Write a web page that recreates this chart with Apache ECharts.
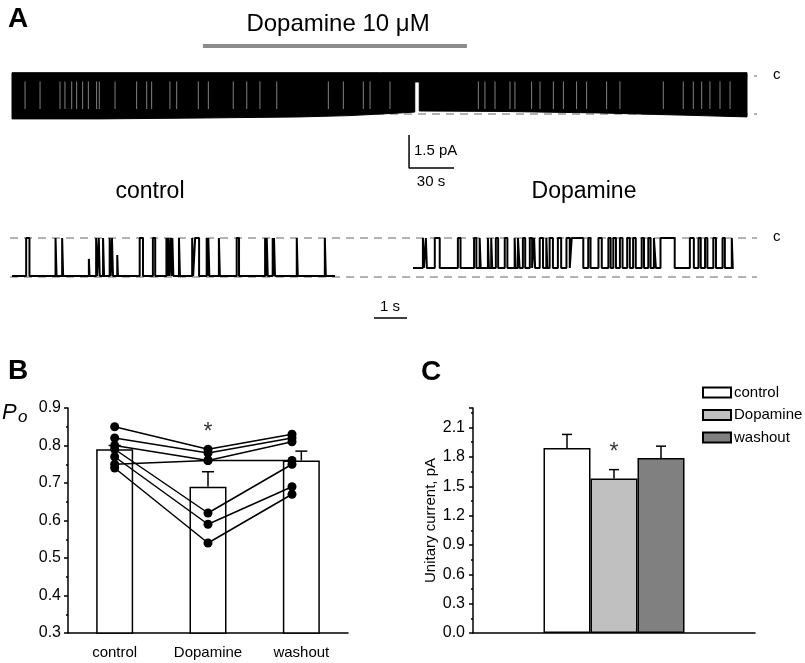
<!DOCTYPE html>
<html>
<head>
<meta charset="utf-8">
<script src="https://cdn.jsdelivr.net/npm/echarts@6/dist/echarts.min.js"></script>
<style>
html,body{margin:0;padding:0;background:#fff;}
#chart{width:805px;height:663px;}
</style>
</head>
<body>
<div id="chart"></div>
<script>
// ---------------- DATA ----------------
// Panel A, overview trace (time in s, current in pA; closed level = 0)
const overviewTime      = [0, 58.7, 125.3, 192, 225.3, 258.7, 268.5, 270, 271.5, 325.3, 392, 458.7, 490];
const overviewOpenLevel = [-1.95, -1.95, -1.91, -1.86, -1.80, -1.68, -1.64, null, -1.59, -1.61, -1.68, -1.80, -1.86];
const overviewStreaks   = [8.7, 18.7, 32, 35.3, 39.8, 43.1, 47.1, 50.9, 56.4, 58.2, 68.7, 83.1, 89.8, 93.1, 105.3, 109.8,
                           124.2, 130.9, 147.5, 156.5, 165.3, 176.5, 210.9, 220.9, 234.2, 238.7, 252,
                           310.9, 315.3, 322, 332, 335.3, 346.4, 352, 360.9, 367.6, 376.4, 383.1, 396.4, 405.3,
                           434.2, 447.5, 454.2, 459.8, 465.3, 472, 478.7];
const dopamineApplication = [127.3, 303.3];   // s
const overviewScale = {pA: 1.5, s: 30};

// Panel A, expanded traces: closures as [start s, duration s, fraction of full closure]
const controlOpenLevel = -1.9;
const controlDuration = 9.79;
const controlClosures = [
  [0.43,0.10,1],[1.32,0.03,1],[1.52,0.03,1],[2.33,0.02,0.45],[2.55,0.03,1],[2.63,0.03,1],[2.76,0.03,1],
  [2.96,0.03,1],[3.03,0.03,1],[3.19,0.02,0.55],[3.87,0.10,1],[4.27,0.07,1],[4.68,0.03,1],[4.73,0.03,1],
  [4.80,0.03,1],[4.86,0.03,1],[5.06,0.03,1],[5.46,0.03,1],[5.55,0.12,1],[5.90,0.03,1],[5.95,0.03,1],
  [6.27,0.03,1],[6.81,0.07,1],[7.67,0.03,1],[7.72,0.03,1],[7.90,0.03,1],[7.94,0.03,1],[8.63,0.03,1],[9.48,0.03,1]
];
const dopamineOpenLevel = -1.5;
const dopamineDuration = 9.72;
const dopamineClosures = [
  [0.30,0.03,1],[0.39,0.03,1],[0.66,0.15,1],[1.36,0.08,1],[1.85,0.07,1],[2.02,0.03,1],[2.27,0.03,1],
  [2.37,0.03,1],[2.51,0.07,1],[2.78,0.08,1],[3.08,0.03,1],[3.18,0.05,1],[3.33,0.07,1],[3.54,0.07,1],
  [3.67,0.03,1],[3.84,0.10,1],[4.04,0.03,1],[4.14,0.10,1],[4.39,0.10,1],[4.65,0.10,1],[4.81,0.35,1],
  [5.31,0.07,1],[5.62,0.10,1],[5.92,0.07,1],[6.07,0.08,1],[6.27,0.08,1],[6.49,0.08,1],[6.67,0.08,1],
  [6.93,0.07,1],[7.13,0.07,1],[7.30,0.06,1],[7.50,0.43,1],[8.39,0.12,1],[8.65,0.07,1],[8.85,0.07,1],
  [9.10,0.08,1],[9.38,0.07,1],[9.66,0.03,1]
];
const expandedScale = {s: 1};

// Panel B: open probability
const poCategories = ['control', 'Dopamine', 'washout'];
const poMean = [0.79, 0.69, 0.76];
const poSE   = [0.01, 0.04, 0.025];
const poSubjects = [
  [0.85, 0.79, 0.83],
  [0.82, 0.78, 0.82],
  [0.80, 0.76, 0.81],
  [0.75, 0.76, 0.76],
  [0.79, 0.62, 0.75],
  [0.77, 0.59, 0.69],
  [0.74, 0.54, 0.67]
];
const poTicks = [0.3, 0.9, 0.1];

// Panel C: unitary current
const currentGroups = ['control', 'Dopamine', 'washout'];
const currentMean = [1.89, 1.58, 1.79];
const currentSE   = [0.14, 0.09, 0.12];
const currentTicks = [0, 2.3, 0.3];

// ---------------- LAYOUT / STYLE ----------------
const FONT = '"Liberation Sans", Arial, sans-serif';
const barColorsC = ['#ffffff', '#c0c0c0', '#808080'];
const dashStyle = {color: '#b3b3b3', width: 2, type: [8, 6]};
const closedNoiseTop = 0.15, gapNoiseBottom = -0.27;
const dotXB = [0.5, 1.5, 2.4];
const barWidthC = 47;

function stepTrace(open, closures, dur, offset) {
  const pts = [[offset, open]];
  closures.forEach(([s, d, f]) => {
    const lvl = open * (1 - f);
    pts.push([offset + s, open], [offset + s, lvl], [offset + s + d, lvl], [offset + s + d, open]);
  });
  pts.push([offset + dur, open]);
  return pts;
}

const chart = echarts.init(document.getElementById('chart'), null, {renderer: 'canvas'});

const series = [];
// --- top overview trace ---
series.push({type: 'line', xAxisIndex: 0, yAxisIndex: 0, symbol: 'none', silent: true, z: 1,
  lineStyle: dashStyle, data: [[0, 0], [496.7, 0]]});
series.push({type: 'line', xAxisIndex: 0, yAxisIndex: 0, symbol: 'none', silent: true, z: 1,
  lineStyle: dashStyle, data: [[0, -1.727], [496.7, -1.727]]});
series.push({
  type: 'custom', xAxisIndex: 0, yAxisIndex: 0, silent: true, z: 2,
  data: [[0, 0]],
  renderItem: function (params, api) {
    const pts = [];
    for (let i = 0; i < overviewTime.length; i++) {
      const v = overviewOpenLevel[i];
      if (v === null) {
        pts.push(api.coord([overviewTime[i - 1], gapNoiseBottom]));
        pts.push(api.coord([overviewTime[i + 1], gapNoiseBottom]));
      } else {
        pts.push(api.coord([overviewTime[i], v]));
      }
    }
    pts.push(api.coord([overviewTime[overviewTime.length - 1], closedNoiseTop]));
    pts.push(api.coord([overviewTime[0], closedNoiseTop]));
    return {type: 'polygon', shape: {points: pts}, style: {fill: '#000', stroke: '#000', lineWidth: 1}};
  }
});
series.push({
  type: 'custom', xAxisIndex: 0, yAxisIndex: 0, silent: true, z: 3,
  data: overviewStreaks.map(t => [t, 0]),
  renderItem: function (params, api) {
    const t = api.value(0);
    const a = api.coord([t, -0.25]);
    const b = api.coord([t, -1.5]);
    return {type: 'line', shape: {x1: a[0], y1: a[1], x2: b[0], y2: b[1]},
      style: {stroke: '#ffffff', lineWidth: 1, opacity: 0.5}};
  }
});
series.push({type: 'line', xAxisIndex: 0, yAxisIndex: 0, symbol: 'none', silent: true,
  lineStyle: {color: '#8c8c8c', width: 4, cap: 'butt'},
  data: [[dopamineApplication[0], 1.364], [dopamineApplication[1], 1.364]]});
series.push({type: 'line', xAxisIndex: 0, yAxisIndex: 0, symbol: 'none', silent: true,
  lineStyle: {color: '#000', width: 1.5},
  data: [[264.7, -4.18 + overviewScale.pA], [264.7, -4.18], [264.7 + overviewScale.s, -4.18]]});

// --- expanded traces ---
series.push({type: 'line', xAxisIndex: 1, yAxisIndex: 1, symbol: 'none', silent: true, z: 1,
  lineStyle: dashStyle, data: [[0, 0], [22.636, 0]]});
series.push({type: 'line', xAxisIndex: 1, yAxisIndex: 1, symbol: 'none', silent: true, z: 1,
  lineStyle: dashStyle, data: [[0, -1.95], [22.636, -1.95]]});
series.push({type: 'line', xAxisIndex: 1, yAxisIndex: 1, symbol: 'none', silent: true, z: 2,
  lineStyle: {color: '#000', width: 2}, data: stepTrace(controlOpenLevel, controlClosures, controlDuration, 0.06)});
series.push({type: 'line', xAxisIndex: 1, yAxisIndex: 1, symbol: 'none', silent: true, z: 2,
  lineStyle: {color: '#000', width: 2}, data: stepTrace(dopamineOpenLevel, dopamineClosures, dopamineDuration, 12.212)});
series.push({type: 'line', xAxisIndex: 1, yAxisIndex: 1, symbol: 'none', silent: true,
  lineStyle: {color: '#000', width: 1.5}, data: [[11.03, -4.0], [11.03 + expandedScale.s, -4.0]]});

// --- panel B ---
series.push({type: 'bar', xAxisIndex: 2, yAxisIndex: 2, barWidth: 37, silent: true, z: 2,
  itemStyle: {color: '#fff', borderColor: '#000', borderWidth: 1.5}, data: poMean});
series.push({
  type: 'custom', xAxisIndex: 2, yAxisIndex: 2, silent: true, z: 3,
  data: poMean.map((m, i) => [i, m, poSE[i]]),
  encode: {x: 0, y: 1},
  renderItem: function (params, api) {
    const a = api.coord([api.value(0), api.value(1)]);
    const b = api.coord([api.value(0), api.value(1) + api.value(2)]);
    return {type: 'group', children: [
      {type: 'line', shape: {x1: a[0], y1: a[1], x2: b[0], y2: b[1]}, style: {stroke: '#000', lineWidth: 1.5}},
      {type: 'line', shape: {x1: b[0] - 6, y1: b[1], x2: b[0] + 6, y2: b[1]}, style: {stroke: '#000', lineWidth: 1.5}}
    ]};
  }
});
poSubjects.forEach(s => {
  series.push({type: 'line', xAxisIndex: 3, yAxisIndex: 2, silent: true, z: 4,
    symbol: 'circle', symbolSize: 9, showSymbol: true,
    itemStyle: {color: '#000'}, lineStyle: {color: '#000', width: 1.5},
    data: s.map((v, i) => [dotXB[i], v])});
});
series.push({type: 'scatter', xAxisIndex: 3, yAxisIndex: 2, silent: true, symbolSize: 0,
  data: [[1.5, 0.834]],
  label: {show: true, position: 'inside', formatter: '*', fontSize: 23, color: '#000', fontFamily: FONT}});

// --- panel C ---
currentGroups.forEach((g, i) => {
  series.push({type: 'bar', name: g, xAxisIndex: 4, yAxisIndex: 3, barWidth: barWidthC, barGap: '0%', silent: true,
    itemStyle: {color: barColorsC[i], borderColor: '#000', borderWidth: 1.5}, data: [currentMean[i]]});
});
series.push({
  type: 'custom', xAxisIndex: 4, yAxisIndex: 3, silent: true, z: 3,
  data: currentMean.map((m, i) => [0, m, currentSE[i], i]),
  encode: {x: 0, y: 1},
  renderItem: function (params, api) {
    const off = (api.value(3) - 1) * barWidthC;
    const a = api.coord([0, api.value(1)]);
    const b = api.coord([0, api.value(1) + api.value(2)]);
    const x = a[0] + off;
    return {type: 'group', children: [
      {type: 'line', shape: {x1: x, y1: a[1], x2: x, y2: b[1]}, style: {stroke: '#000', lineWidth: 1.5}},
      {type: 'line', shape: {x1: x - 5, y1: b[1], x2: x + 5, y2: b[1]}, style: {stroke: '#000', lineWidth: 1.5}}
    ]};
  }
});
series.push({type: 'scatter', xAxisIndex: 4, yAxisIndex: 3, silent: true, symbolSize: 0,
  data: [[0, 1.84]],
  label: {show: true, position: 'inside', formatter: '*', fontSize: 23, color: '#000', fontFamily: FONT}});

const axisBlack = {lineStyle: {color: '#000', width: 1.5}};

function txt(text, x, y, size, opts) {
  return {type: 'text', x: x, y: y, silent: true, style: Object.assign({
    text: text, fontSize: size, fontFamily: FONT, fill: '#000', align: 'center', verticalAlign: 'middle'}, opts || {})};
}

const option = {
  animation: false,
  backgroundColor: '#fff',
  textStyle: {fontFamily: FONT},
  grid: [
    {left: 12, top: 40, width: 747, height: 150},
    {left: 10, top: 220, width: 747, height: 110},
    {left: 68, top: 408, width: 280, height: 225},
    {left: 473, top: 408, width: 282, height: 225}
  ],
  xAxis: [
    {gridIndex: 0, type: 'value', min: 0, max: 498, show: false},
    {gridIndex: 1, type: 'value', min: 0, max: 22.636, show: false},
    {gridIndex: 2, type: 'category', data: poCategories, axisLine: axisBlack, axisTick: {show: false},
      axisLabel: {color: '#000', fontSize: 15, margin: 12, fontFamily: FONT}},
    {gridIndex: 2, type: 'value', min: 0, max: 3, show: false},
    {gridIndex: 3, type: 'category', data: [''], axisLine: axisBlack, axisTick: {show: false}, axisLabel: {show: false}}
  ],
  yAxis: [
    {gridIndex: 0, type: 'value', min: -5.18182, max: 1.63636, show: false},
    {gridIndex: 1, type: 'value', min: -4.6, max: 0.9, show: false},
    {gridIndex: 2, type: 'value', min: poTicks[0], max: poTicks[1], interval: poTicks[2],
      axisLine: {show: true, lineStyle: {color: '#000', width: 1.5}},
      axisTick: {show: true, length: 4, lineStyle: {color: '#000', width: 1.5}},
      minorTick: {show: true, splitNumber: 2, length: 2, lineStyle: {color: '#000', width: 1.5}},
      splitLine: {show: false},
      axisLabel: {color: '#000', fontSize: 16, margin: 7, fontFamily: FONT, formatter: v => v.toFixed(1)}},
    {gridIndex: 3, type: 'value', min: currentTicks[0], max: currentTicks[1], interval: currentTicks[2],
      name: 'Unitary current, pA', nameLocation: 'middle', nameGap: 34,
      nameTextStyle: {color: '#000', fontSize: 15, fontFamily: FONT},
      axisLine: {show: true, lineStyle: {color: '#000', width: 1.5}},
      axisTick: {show: true, length: 4, lineStyle: {color: '#000', width: 1.5}},
      minorTick: {show: true, splitNumber: 2, length: 2, lineStyle: {color: '#000', width: 1.5}},
      splitLine: {show: false},
      axisLabel: {color: '#000', fontSize: 16, margin: 8, fontFamily: FONT, showMaxLabel: false,
        formatter: v => v.toFixed(1)}}
  ],
  legend: {
    data: currentGroups, orient: 'vertical', left: 697, top: 380, itemWidth: 28, itemHeight: 10, itemGap: 7.5,
    icon: 'rect', selectedMode: false,
    textStyle: {color: '#000', fontSize: 15, fontFamily: FONT, padding: [0, 0, 0, -2]}
  },
  graphic: [
    txt('A', 18, 19, 28, {fontWeight: 'bold'}),
    txt('B', 18, 371, 28, {fontWeight: 'bold'}),
    txt('C', 431, 372, 28, {fontWeight: 'bold'}),
    txt('Dopamine 10 μM', 338, 24, 24),
    txt('control', 150, 192, 23),
    txt('Dopamine', 584, 192, 23),
    txt('1.5 pA', 414, 151, 15, {align: 'left'}),
    txt('30 s', 431, 182, 15),
    txt('1 s', 390, 307, 15),
    txt('c', 773, 75, 15, {align: 'left'}),
    txt('c', 773, 237, 15, {align: 'left'}),
    txt('P', 2, 413, 22, {align: 'left', fontStyle: 'italic'}),
    txt('o', 18, 417, 17, {align: 'left', fontStyle: 'italic'})
  ],
  series: series
};
chart.setOption(option);
</script>
</body>
</html>
